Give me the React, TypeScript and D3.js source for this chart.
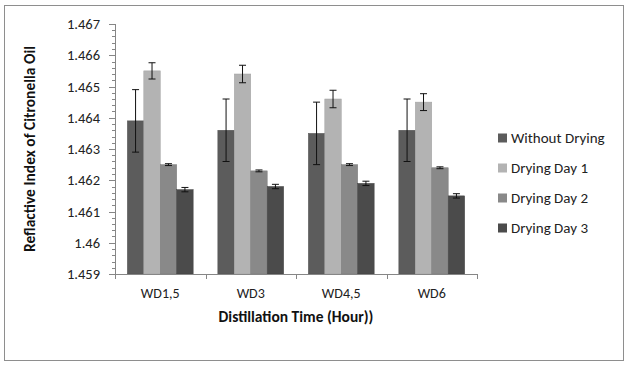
import React from "react";
import * as d3 from "d3";

const categories = ["WD1,5", "WD3", "WD4,5", "WD6"];
const seriesNames = ["Without Drying", "Drying Day 1", "Drying Day 2", "Drying Day 3"];
const withoutDrying = [1.4639, 1.4636, 1.4635, 1.4636];
const dryingDay1 = [1.4655, 1.4654, 1.4646, 1.4645];
const dryingDay2 = [1.4625, 1.4623, 1.4625, 1.4624];
const dryingDay3 = [1.4617, 1.4618, 1.4619, 1.4615];
const errWithout = [0.001, 0.001, 0.001, 0.001];
const errDay1 = [0.00026, 0.00028, 0.00028, 0.00027];
const errDay2 = [0.00003, 0.00003, 0.00003, 0.00003];
const errDay3 = [0.00007, 0.00007, 0.00007, 0.00007];
const yTicks = [1.459, 1.46, 1.461, 1.462, 1.463, 1.464, 1.465, 1.466, 1.467];
const colors = ["#5c5c5c", "#b3b3b3", "#898989", "#4b4b4b"];

const seriesValues = [withoutDrying, dryingDay1, dryingDay2, dryingDay3];
const seriesErrors = [errWithout, errDay1, errDay2, errDay3];

export default function App() {
  const W = 629, H = 366;
  const left = 115, right = 477, top = 24, bottom = 274;
  const y = d3.scaleLinear().domain([1.459, 1.467]).range([bottom, top]);
  const x0 = d3.scaleBand().domain(categories).range([left, right]).paddingInner(0).paddingOuter(0);
  const cat = x0.bandwidth();
  const barW = cat / (4 + 1.5);
  const groupOffset = (cat - 4 * barW) / 2;
  const x1 = d3.scaleBand().domain(seriesNames).range([0, 4 * barW]).padding(0);
  const minor = d3.range(0, 41).map((i) => 1.459 + i * 0.0002);
  const font = "Calibri, Carlito, Lato, sans-serif";
  const fmt = (v: number) => String(+v.toFixed(3));

  return (
    <svg width={W} height={H} style={{ position: "absolute", left: 0, top: 0, background: "#fff" }} fontFamily={font}>
      <rect x={4.5} y={5.5} width={619} height={355} fill="#fff" stroke="#8e8e8e" strokeWidth={1} />
      {/* y axis */}
      <line x1={left + 0.5} x2={left + 0.5} y1={top} y2={bottom} stroke="#868686" />
      {minor.map((v, i) => (
        <line key={"m" + i} x1={left - 3} x2={left + 0.5} y1={Math.round(y(v)) + 0.5} y2={Math.round(y(v)) + 0.5} stroke="#868686" />
      ))}
      {yTicks.map((v) => (
        <g key={v}>
          <line x1={left - 6} x2={left} y1={Math.round(y(v)) + 0.5} y2={Math.round(y(v)) + 0.5} stroke="#868686" />
          <text x={left - 15} y={y(v)} dy="0.35em" textAnchor="end" fontSize={14.5} fill="#222">{fmt(v)}</text>
        </g>
      ))}
      {/* bars */}
      {categories.map((c, ci) => (
        <g key={c} transform={`translate(${(x0(c) as number) + groupOffset},0)`}>
          {seriesNames.map((s, si) => {
            const v = seriesValues[si][ci];
            const e = seriesErrors[si][ci];
            const bx = x1(s) as number;
            const cx = bx + barW / 2;
            return (
              <g key={s}>
                <rect x={bx} y={y(v)} width={barW} height={bottom - y(v)} fill={colors[si]} stroke={d3.color(colors[si])!.darker(0.3).toString()} strokeWidth={0.5} />
                <line x1={cx} x2={cx} y1={y(v + e)} y2={y(v - e)} stroke="#111" strokeWidth={1} />
                <line x1={cx - 3.5} x2={cx + 3.5} y1={y(v + e)} y2={y(v + e)} stroke="#111" strokeWidth={1} />
                <line x1={cx - 3.5} x2={cx + 3.5} y1={y(v - e)} y2={y(v - e)} stroke="#111" strokeWidth={1} />
              </g>
            );
          })}
        </g>
      ))}
      {/* x axis */}
      <line x1={left} x2={right} y1={bottom + 0.5} y2={bottom + 0.5} stroke="#868686" />
      {[...categories.map((c) => x0(c) as number), right].map((p, i) => (
        <line key={"xt" + i} x1={Math.round(p) + 0.5} x2={Math.round(p) + 0.5} y1={bottom} y2={bottom + 5} stroke="#868686" />
      ))}
      {categories.map((c) => (
        <text key={c} x={(x0(c) as number) + cat / 2} y={293} dy="0.35em" textAnchor="middle" fontSize={14} fill="#222">{c}</text>
      ))}
      <text x={(left + right) / 2} y={317} dy="0.35em" textAnchor="middle" fontSize={15.5} fontWeight="bold" fill="#111">Distillation Time (Hour))</text>
      <text transform={`translate(30,${(top + bottom) / 2}) rotate(-90)`} dy="0.35em" textAnchor="middle" fontSize={15.5} fontWeight="bold" fill="#111">Reflactive Index of Citronella Oil</text>
      {/* legend */}
      {seriesNames.map((s, i) => (
        <g key={s} transform={`translate(498,${138 + i * 30})`}>
          <rect x={0} y={-4.5} width={9} height={9} fill={colors[i]} />
          <text x={13} y={0} dy="0.35em" fontSize={15} fill="#222">{s}</text>
        </g>
      ))}
    </svg>
  );
}
